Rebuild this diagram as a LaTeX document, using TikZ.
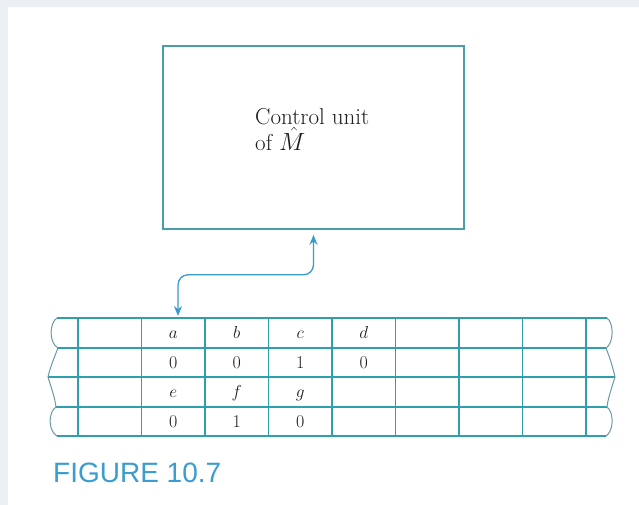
\documentclass[tikz,border=0pt]{standalone}
\usepackage{fontspec}
\newfontfamily\capfont{Liberation Sans}
\usetikzlibrary{arrows.meta}
\definecolor{frameband}{HTML}{EAF0F4}
\definecolor{boxline}{HTML}{4A9EA8}
\definecolor{gridline}{HTML}{2E9FAF}
\definecolor{edgeline}{HTML}{6A9AA3}
\definecolor{arrowcol}{HTML}{3A9AD0}
\definecolor{capcol}{HTML}{3A9CCF}
\definecolor{txt}{HTML}{1E1E1E}
\tikzset{
  unitbox/.style={draw=boxline, line width=1.6pt, minimum width=301pt, minimum height=183pt, inner sep=0pt},
  grid/.style={draw=gridline, line width=1.2pt},
  tornedge/.style={draw=edgeline, line width=1pt},
  link/.style={draw=arrowcol, line width=1.3pt, rounded corners=10pt, {Stealth[length=10pt,width=8pt]}-{Stealth[length=10pt,width=8pt]}},
  boxtext/.style={anchor=base west, inner sep=0pt, text=txt, font=\fontsize{23}{26}\selectfont},
  celltext/.style={anchor=base, inner sep=0pt, text=txt, font=\fontsize{18}{21}\selectfont},
  captext/.style={anchor=base west, inner sep=0pt, text=capcol, font=\capfont\fontsize{28}{32}\selectfont}
}
\begin{document}
\begin{tikzpicture}[x=1pt,y=-1pt]
\useasboundingbox (0,0) rectangle (639,505);
\fill[frameband] (0,0) rectangle (639,505);
\fill[white] (8,7) rectangle (639,505);

% control unit
\node[unitbox] (cu) at (313.5,137.5) {};
\node[boxtext] (cu1) at (255,125) {Control unit};
\node[boxtext] (cu2) at (255,151) {of $\hat{M}$};

% tape grid
\foreach \k in {0,...,8} {
  \draw[grid] ({78+63.5*\k},318) -- ({78+63.5*\k},436);
}
\draw[grid] (57,318) -- (607,318);
\draw[grid] (58,348) -- (606,348);
\draw[grid] (48,377) -- (615,377);
\draw[grid] (56,407) -- (607,407);
\draw[grid] (57,436) -- (606,436);

% torn edges
\draw[tornedge] (57,318) .. controls (49,323) and (49,343) .. (58,348)
  .. controls (54,358) and (50,368) .. (48,377)
  .. controls (51,387) and (55,398) .. (56,407)
  .. controls (48,412) and (48,431) .. (57,436);
\draw[tornedge] (607,318) .. controls (614,323) and (614,343) .. (606,348)
  .. controls (610,358) and (613,368) .. (615,377)
  .. controls (612,387) and (608,398) .. (607,407)
  .. controls (614,412) and (614,431) .. (606,436);

% cell contents
\node[celltext] (ca) at (173.25,338) {$a$};
\node[celltext] (cb) at (236.75,338) {$b$};
\node[celltext] (cc) at (300.25,338) {$c$};
\node[celltext] (cd) at (363.75,338) {$d$};
\node[celltext] (v1) at (173.25,368) {0};
\node[celltext] (v2) at (236.75,368) {0};
\node[celltext] (v3) at (300.25,368) {1};
\node[celltext] (v4) at (363.75,368) {0};
\node[celltext] (ce) at (173.25,397) {$e$};
\node[celltext] (cf) at (236.75,397) {$f$};
\node[celltext] (cg) at (300.25,397) {$g$};
\node[celltext] (w1) at (173.25,427) {0};
\node[celltext] (w2) at (236.75,427) {1};
\node[celltext] (w3) at (300.25,427) {0};

% read head connector
\coordinate (head) at (178,316);
\draw[link] ([yshift=-5pt]cu.south) -- ++(0,40) -| (head);

% caption
\node[captext] (cap) at (53,482) {FIGURE 10.7};
\end{tikzpicture}
\end{document}
